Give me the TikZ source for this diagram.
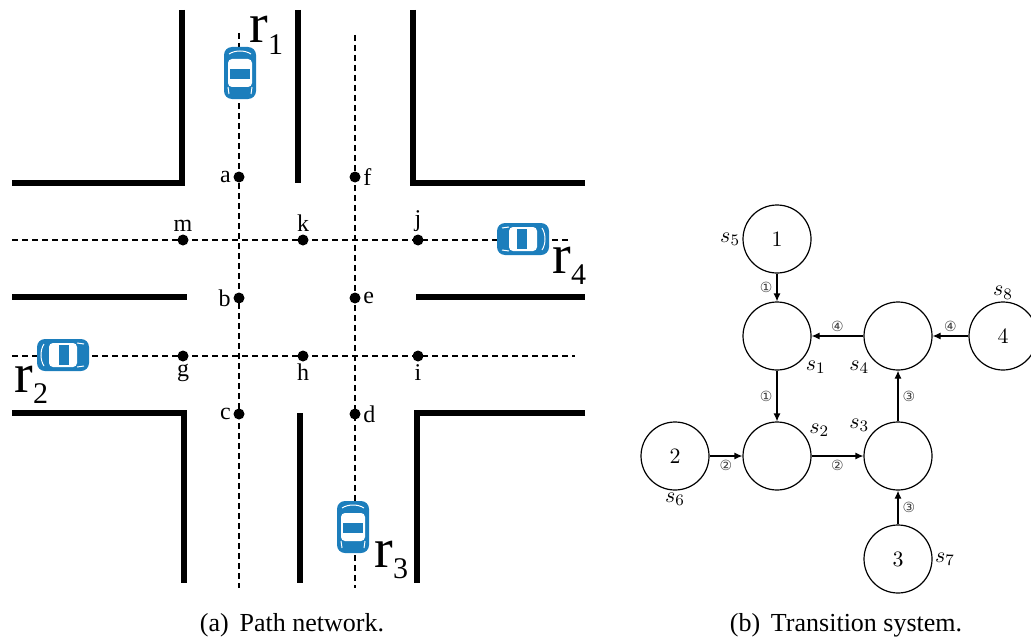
\documentclass[tikz,border=0pt]{standalone}
\usepackage{amssymb,amsmath}
\usepackage{fontspec}
\setmainfont{Liberation Serif}
\newfontfamily\circfont{DejaVu Sans}
\usepackage{xcolor}
\usepackage{tikz}
\usetikzlibrary{arrows, arrows.meta, positioning}

\definecolor{carblue}{RGB}{28,126,188}
\newcommand{\rsub}[1]{\raisebox{-0.45ex}{\fontsize{15}{15}\selectfont #1}}

\begin{document}
\begin{tikzpicture}[x=0.5pt,y=-0.5pt]
		\tikzset{
			wall/.style={line width=3pt, line join=miter},
			road/.style={line width=1pt, dash pattern=on 3pt off 2pt},
			spot/.style={circle, fill, inner sep=0pt, minimum size=5.5pt, label distance=2.5pt},
			robot/.style={font=\fontsize{28}{28}\selectfont, inner sep=0pt},
			state/.style={circle, draw, line width=0.6pt, minimum size=34pt, inner sep=0pt,
			font=\fontsize{11}{13}\selectfont},
			trans/.style={-{Latex[length=4pt,width=3.5pt]}, line width=0.6pt},
			tag/.style={font=\circfont\fontsize{7}{8}\selectfont, text=black!75, inner sep=2pt},
			caption/.style={font=\fontsize{13}{15}\selectfont, anchor=base},
			car/.pic={
				\fill[carblue, rounded corners=4pt] (-16,-26) rectangle (16,26);
				\fill[white, rounded corners=2pt] (-12,-14) rectangle (12,14);
				\fill[carblue] (-10,-4) rectangle (10,6);
				\draw[white, line width=0.5pt] (-11,-19) .. controls (-5,-23) and (5,-23) .. (11,-19);
				\draw[white, line width=0.5pt] (-12,14) -- (-11,21) (12,14) -- (11,21);
			}
		}
		\useasboundingbox (0,0) rectangle (1031,642);

		% walls of the crossing
		\draw[wall] (182,10) -- (182,183) -- (12,183);
		\draw[wall] (298,10) -- (298,183);
		\draw[wall] (413,10) -- (413,183) -- (585,183);
		\draw[wall] (12,297) -- (187,297);
		\draw[wall] (416,297) -- (585,297);
		\draw[wall] (12,413) -- (184,413) -- (184,583);
		\draw[wall] (300,413) -- (300,583);
		\draw[wall] (585,413) -- (417,413) -- (417,583);

		% lanes
		\coordinate (lane1n) at (239,33);
		\coordinate (lane1s) at (239,588);
		\coordinate (lane2n) at (355,35);
		\coordinate (lane2s) at (355,588);
		\coordinate (lane3w) at (12,240);
		\coordinate (lane3e) at (570,240);
		\coordinate (lane4w) at (12,356);
		\coordinate (lane4e) at (575,356);
		\draw[road] (lane1n) -- (lane1s);
		\draw[road] (lane2n) -- (lane2s);
		\draw[road] (lane3w) -- (lane3e);
		\draw[road] (lane4w) -- (lane4e);

		\begin{scope}[every label/.style={inner sep=1pt, font=\fontsize{12}{14}\selectfont}]
		\node[spot, label=left:a] (a) at (239,177) {};
		\node[spot, label=right:f] (f) at (355,177) {};
		\node[spot, label=above:m] (m) at (183,240) {};
		\node[spot, label=above:k] (k) at (303,240) {};
		\node[spot, label=above:j] (j) at (418,240) {};
		\node[spot, label=left:b] (b) at (239,298) {};
		\node[spot, label=right:e] (e) at (355,298) {};
		\node[spot, label=below:g] (g) at (183,356) {};
		\node[spot, label=below:h] (h) at (303,356) {};
		\node[spot, label=below:i] (i) at (418,356) {};
		\node[spot, label=left:c] (c) at (239,414) {};
		\node[spot, label=right:d] (d) at (355,414) {};
		\end{scope}

		% robots
		\pic at (240,73) {car};
		\pic[rotate=-90] at (523,239) {car};
		\pic[rotate=90] at (63,355) {car};
		\pic at (353,527) {car};
		\node[robot, anchor=base west] (r1) at (249,43) {r\rsub{1}};
		\node[robot, anchor=base west] (r4) at (552,273) {r\rsub{4}};
		\node[robot, anchor=base west] (r2) at (14,392) {r\rsub{2}};
		\node[robot, anchor=base west] (r3) at (374,567) {r\rsub{3}};

		% transition system
		\begin{scope}[every label/.style={inner sep=1pt, font=\fontsize{11}{13}\selectfont}]
		\node[state, label=left:$s_5$] (s5) at (777,239) {$1$};
		\node[state, label={-40:$s_1$}] (s1) at (777,336) {};
		\node[state, label={-140:$s_4$}] (s4) at (898,336) {};
		\node[state, label=above:$s_8$] (s8) at (1003,336) {$4$};
		\node[state, label=below:$s_6$] (s6) at (675,456) {$2$};
		\node[state, label={30:$s_2$}] (s2) at (777,456) {};
		\node[state, label={140:$s_3$}] (s3) at (898,456) {};
		\node[state, label=right:$s_7$] (s7) at (898,559) {$3$};
		\end{scope}

		\draw[trans] (s5) -- node[tag, left] {①} (s1);
		\draw[trans] (s1) -- node[tag, left] {①} (s2);
		\draw[trans] (s6) -- node[tag, below] {②} (s2);
		\draw[trans] (s2) -- node[tag, below] {②} (s3);
		\draw[trans] (s7) -- node[tag, right] {③} (s3);
		\draw[trans] (s3) -- node[tag, right] {③} (s4);
		\draw[trans] (s8) -- node[tag, above] {④} (s4);
		\draw[trans] (s4) -- node[tag, above] {④} (s1);

		\node[caption] (capa) at (292,631) {(a)\, Path network.};
		\node[caption] (capb) at (846,631) {(b)\, Transition system.};
	\end{tikzpicture}
\end{document}
